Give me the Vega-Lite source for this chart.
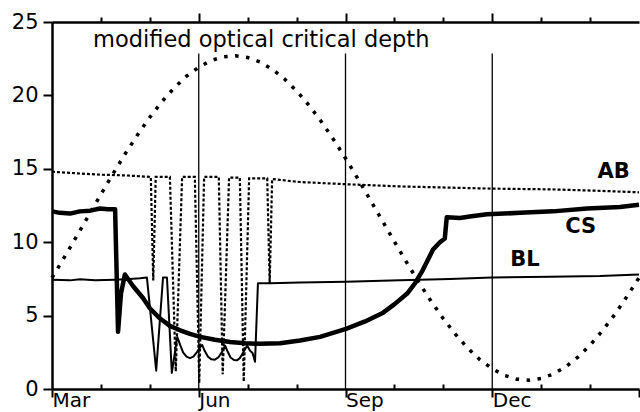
{
  "$schema": "https://vega.github.io/schema/vega-lite/v6.json",
  "width": 587,
  "height": 367,
  "autosize": {"type": "none"},
  "padding": {"left": 52, "top": 22, "right": 1, "bottom": 23},
  "background": "white",
  "config": {
    "view": {"stroke": null},
    "axis": {
      "labelFont": "DejaVu Sans",
      "labelFontSize": 21,
      "labelColor": "black",
      "domainColor": "black",
      "domainWidth": 2.5,
      "tickColor": "black",
      "tickWidth": 2,
      "grid": false
    },
    "text": {"font": "DejaVu Sans", "fontSize": 21, "color": "black"}
  },
  "datasets": {
    "curves": [
      {"series": "OCD", "month": 0, "value": 7.58},
      {"series": "OCD", "month": 0.25, "value": 8.96},
      {"series": "OCD", "month": 0.5, "value": 10.38},
      {"series": "OCD", "month": 0.75, "value": 11.82},
      {"series": "OCD", "month": 1, "value": 13.26},
      {"series": "OCD", "month": 1.25, "value": 14.68},
      {"series": "OCD", "month": 1.5, "value": 16.04},
      {"series": "OCD", "month": 1.75, "value": 17.32},
      {"series": "OCD", "month": 2, "value": 18.51},
      {"series": "OCD", "month": 2.25, "value": 19.58},
      {"series": "OCD", "month": 2.5, "value": 20.52},
      {"series": "OCD", "month": 2.75, "value": 21.31},
      {"series": "OCD", "month": 3, "value": 21.92},
      {"series": "OCD", "month": 3.25, "value": 22.37},
      {"series": "OCD", "month": 3.5, "value": 22.63},
      {"series": "OCD", "month": 3.75, "value": 22.7},
      {"series": "OCD", "month": 4, "value": 22.58},
      {"series": "OCD", "month": 4.25, "value": 22.28},
      {"series": "OCD", "month": 4.5, "value": 21.79},
      {"series": "OCD", "month": 4.75, "value": 21.13},
      {"series": "OCD", "month": 5, "value": 20.31},
      {"series": "OCD", "month": 5.25, "value": 19.34},
      {"series": "OCD", "month": 5.5, "value": 18.24},
      {"series": "OCD", "month": 5.75, "value": 17.02},
      {"series": "OCD", "month": 6, "value": 15.72},
      {"series": "OCD", "month": 6.25, "value": 14.34},
      {"series": "OCD", "month": 6.5, "value": 12.92},
      {"series": "OCD", "month": 6.75, "value": 11.48},
      {"series": "OCD", "month": 7, "value": 10.04},
      {"series": "OCD", "month": 7.25, "value": 8.62},
      {"series": "OCD", "month": 7.5, "value": 7.26},
      {"series": "OCD", "month": 7.75, "value": 5.98},
      {"series": "OCD", "month": 8, "value": 4.79},
      {"series": "OCD", "month": 8.25, "value": 3.72},
      {"series": "OCD", "month": 8.5, "value": 2.78},
      {"series": "OCD", "month": 8.75, "value": 1.99},
      {"series": "OCD", "month": 9, "value": 1.38},
      {"series": "OCD", "month": 9.25, "value": 0.93},
      {"series": "OCD", "month": 9.5, "value": 0.67},
      {"series": "OCD", "month": 9.75, "value": 0.6},
      {"series": "OCD", "month": 10, "value": 0.72},
      {"series": "OCD", "month": 10.25, "value": 1.02},
      {"series": "OCD", "month": 10.5, "value": 1.51},
      {"series": "OCD", "month": 10.75, "value": 2.17},
      {"series": "OCD", "month": 11, "value": 2.99},
      {"series": "OCD", "month": 11.25, "value": 3.96},
      {"series": "OCD", "month": 11.5, "value": 5.06},
      {"series": "OCD", "month": 11.75, "value": 6.28},
      {"series": "OCD", "month": 12, "value": 7.58},

      {"series": "AB", "month": 0, "value": 14.8},
      {"series": "AB", "month": 0.47, "value": 14.7},
      {"series": "AB", "month": 0.98, "value": 14.6},
      {"series": "AB", "month": 1.49, "value": 14.55},
      {"series": "AB", "month": 2.02, "value": 14.45},
      {"series": "AB", "month": 2.07, "value": 7.4},
      {"series": "AB", "month": 2.12, "value": 14.45},
      {"series": "AB", "month": 2.41, "value": 14.45},
      {"series": "AB", "month": 2.53, "value": 1.2},
      {"series": "AB", "month": 2.66, "value": 14.45},
      {"series": "AB", "month": 2.92, "value": 14.45},
      {"series": "AB", "month": 3.01, "value": 0.4},
      {"series": "AB", "month": 3.11, "value": 14.45},
      {"series": "AB", "month": 3.41, "value": 14.45},
      {"series": "AB", "month": 3.49, "value": 1.0},
      {"series": "AB", "month": 3.62, "value": 14.4},
      {"series": "AB", "month": 3.84, "value": 14.4},
      {"series": "AB", "month": 3.92, "value": 0.5},
      {"series": "AB", "month": 4.03, "value": 14.35},
      {"series": "AB", "month": 4.4, "value": 14.35},
      {"series": "AB", "month": 4.45, "value": 7.2},
      {"series": "AB", "month": 4.5, "value": 14.3},
      {"series": "AB", "month": 5.07, "value": 14.1},
      {"series": "AB", "month": 6.01, "value": 13.95},
      {"series": "AB", "month": 7.11, "value": 13.8},
      {"series": "AB", "month": 8.34, "value": 13.7},
      {"series": "AB", "month": 8.99, "value": 13.65},
      {"series": "AB", "month": 10.18, "value": 13.6},
      {"series": "AB", "month": 11.2, "value": 13.5},
      {"series": "AB", "month": 12, "value": 13.4},

      {"series": "CS", "month": 0, "value": 12.1},
      {"series": "CS", "month": 0.16, "value": 12.0},
      {"series": "CS", "month": 0.37, "value": 11.95},
      {"series": "CS", "month": 0.57, "value": 12.1},
      {"series": "CS", "month": 0.78, "value": 12.15},
      {"series": "CS", "month": 0.98, "value": 12.3},
      {"series": "CS", "month": 1.14, "value": 12.25},
      {"series": "CS", "month": 1.29, "value": 12.25},
      {"series": "CS", "month": 1.35, "value": 3.9},
      {"series": "CS", "month": 1.41, "value": 6.5},
      {"series": "CS", "month": 1.49, "value": 7.8},
      {"series": "CS", "month": 1.66, "value": 7.0},
      {"series": "CS", "month": 1.86, "value": 6.2},
      {"series": "CS", "month": 2.0, "value": 5.5},
      {"series": "CS", "month": 2.21, "value": 4.8},
      {"series": "CS", "month": 2.41, "value": 4.3},
      {"series": "CS", "month": 2.62, "value": 4.0},
      {"series": "CS", "month": 2.82, "value": 3.75},
      {"series": "CS", "month": 3.03, "value": 3.55},
      {"series": "CS", "month": 3.33, "value": 3.35},
      {"series": "CS", "month": 3.64, "value": 3.2},
      {"series": "CS", "month": 3.95, "value": 3.12},
      {"series": "CS", "month": 4.25, "value": 3.08},
      {"series": "CS", "month": 4.66, "value": 3.12},
      {"series": "CS", "month": 5.07, "value": 3.3},
      {"series": "CS", "month": 5.48, "value": 3.55},
      {"series": "CS", "month": 6.01, "value": 4.1},
      {"series": "CS", "month": 6.4, "value": 4.6},
      {"series": "CS", "month": 6.77, "value": 5.2},
      {"series": "CS", "month": 7.01, "value": 5.8},
      {"series": "CS", "month": 7.26, "value": 6.5},
      {"series": "CS", "month": 7.42, "value": 7.2},
      {"series": "CS", "month": 7.58, "value": 8.1},
      {"series": "CS", "month": 7.79, "value": 9.5},
      {"series": "CS", "month": 7.93, "value": 10.0},
      {"series": "CS", "month": 8.03, "value": 10.25},
      {"series": "CS", "month": 8.07, "value": 11.7},
      {"series": "CS", "month": 8.34, "value": 11.65},
      {"series": "CS", "month": 8.54, "value": 11.75},
      {"series": "CS", "month": 8.89, "value": 11.9},
      {"series": "CS", "month": 9.57, "value": 12.0},
      {"series": "CS", "month": 10.24, "value": 12.1},
      {"series": "CS", "month": 10.94, "value": 12.3},
      {"series": "CS", "month": 11.61, "value": 12.4},
      {"series": "CS", "month": 12, "value": 12.55},

      {"series": "BL", "month": 0, "value": 7.45},
      {"series": "BL", "month": 0.37, "value": 7.4},
      {"series": "BL", "month": 0.57, "value": 7.48},
      {"series": "BL", "month": 0.88, "value": 7.4},
      {"series": "BL", "month": 1.29, "value": 7.45},
      {"series": "BL", "month": 1.59, "value": 7.5},
      {"series": "BL", "month": 1.8, "value": 7.55},
      {"series": "BL", "month": 1.94, "value": 7.6},
      {"series": "BL", "month": 2.13, "value": 1.25},
      {"series": "BL", "month": 2.27, "value": 7.6},
      {"series": "BL", "month": 2.35, "value": 7.6},
      {"series": "BL", "month": 2.45, "value": 1.1},
      {"series": "BL", "month": 2.56, "value": 3.55},
      {"series": "BL", "month": 2.62, "value": 3.0},
      {"series": "BL", "month": 2.68, "value": 2.5},
      {"series": "BL", "month": 2.75, "value": 2.2},
      {"series": "BL", "month": 2.82, "value": 2.1},
      {"series": "BL", "month": 2.89, "value": 2.2},
      {"series": "BL", "month": 2.96, "value": 2.5},
      {"series": "BL", "month": 3.03, "value": 2.85},
      {"series": "BL", "month": 3.07, "value": 3.0},
      {"series": "BL", "month": 3.12, "value": 2.6},
      {"series": "BL", "month": 3.19, "value": 2.2},
      {"series": "BL", "month": 3.26, "value": 2.02},
      {"series": "BL", "month": 3.33, "value": 2.0},
      {"series": "BL", "month": 3.4, "value": 2.15},
      {"series": "BL", "month": 3.47, "value": 2.5},
      {"series": "BL", "month": 3.54, "value": 2.95},
      {"series": "BL", "month": 3.59, "value": 2.55},
      {"series": "BL", "month": 3.65, "value": 2.15},
      {"series": "BL", "month": 3.72, "value": 1.97},
      {"series": "BL", "month": 3.78, "value": 1.95},
      {"series": "BL", "month": 3.84, "value": 2.1},
      {"series": "BL", "month": 3.91, "value": 2.5},
      {"series": "BL", "month": 3.99, "value": 2.95},
      {"series": "BL", "month": 4.05, "value": 2.6},
      {"series": "BL", "month": 4.1, "value": 2.45},
      {"series": "BL", "month": 4.15, "value": 1.85},
      {"series": "BL", "month": 4.21, "value": 7.2},
      {"series": "BL", "month": 4.46, "value": 7.2},
      {"series": "BL", "month": 5.07, "value": 7.25},
      {"series": "BL", "month": 6.01, "value": 7.3},
      {"series": "BL", "month": 7.11, "value": 7.4},
      {"series": "BL", "month": 8.14, "value": 7.5},
      {"series": "BL", "month": 8.99, "value": 7.6},
      {"series": "BL", "month": 10.18, "value": 7.65},
      {"series": "BL", "month": 11.2, "value": 7.7},
      {"series": "BL", "month": 12, "value": 7.8}
    ],
    "seasons": [
      {"month": 3},
      {"month": 6},
      {"month": 9}
    ]
  },
  "layer": [
    {
      "data": {"name": "curves"},
      "transform": [{"filter": "datum.series === 'OCD'"}],
      "mark": {"type": "line", "color": "black", "strokeWidth": 3.5, "strokeDash": [3.5, 7.5], "strokeCap": "butt"},
      "encoding": {
        "x": {
          "field": "month", "type": "quantitative",
          "scale": {"domain": [0, 12], "nice": false, "zero": false},
          "axis": {
            "orient": "bottom",
            "title": null,
            "values": [0, 1, 2, 3, 4, 5, 6, 7, 8, 9, 10, 11, 12],
            "labelExpr": "datum.value === 0 ? 'Mar' : datum.value === 3 ? 'Jun' : datum.value === 6 ? 'Sep' : datum.value === 9 ? 'Dec' : ''",
            "labelAlign": "left",
            "labelDx": 5,
            "labelPadding": -7,
            "labelFontSize": 20,
            "labelFlush": false,
            "labelOverlap": false,
            "labelBound": false,
            "tickSize": {"condition": {"test": "datum.value % 3 === 0", "value": 8}, "value": -5}
          }
        },
        "y": {"field": "value", "type": "quantitative", "title": null, "scale": {"domain": [0, 25], "nice": false},
              "axis": {"values": [0, 5, 10, 15, 20, 25], "tickSize": 9, "labelPadding": 5}}
      }
    },
    {
      "data": {"name": "seasons"},
      "mark": {"type": "rule", "color": "black", "strokeWidth": 1.3},
      "encoding": {
        "x": {
          "field": "month", "type": "quantitative",
          "scale": {"domain": [0, 12], "nice": false, "zero": false},
          "axis": {
            "orient": "top",
            "title": null,
            "values": [1, 2, 3, 4, 5, 6, 7, 8, 9, 10, 11],
            "labels": false,
            "tickSize": {"condition": {"test": "datum.value % 3 === 0", "value": 9}, "value": 5}
          }
        },
        "y": {"datum": 0, "type": "quantitative", "title": null, "scale": {"domain": [0, 25], "nice": false},
              "axis": {"values": [0, 5, 10, 15, 20, 25], "tickSize": 9, "labelPadding": 5}},
        "y2": {"datum": 22.85}
      }
    },
    {
      "data": {"name": "curves"},
      "transform": [{"filter": "datum.series === 'AB'"}],
      "mark": {"type": "line", "color": "black", "strokeWidth": 2.2, "strokeDash": [3, 2], "strokeCap": "butt"},
      "encoding": {
        "x": {"field": "month", "type": "quantitative", "axis": null, "scale": {"domain": [0, 12], "nice": false, "zero": false}},
        "y": {"field": "value", "type": "quantitative", "title": null, "scale": {"domain": [0, 25], "nice": false},
              "axis": {"values": [0, 5, 10, 15, 20, 25], "tickSize": 9, "labelPadding": 5}}
      }
    },
    {
      "data": {"name": "curves"},
      "transform": [{"filter": "datum.series === 'BL'"}],
      "mark": {"type": "line", "color": "black", "strokeWidth": 2, "strokeJoin": "round"},
      "encoding": {
        "x": {"field": "month", "type": "quantitative", "axis": null, "scale": {"domain": [0, 12], "nice": false, "zero": false}},
        "y": {"field": "value", "type": "quantitative", "title": null, "scale": {"domain": [0, 25], "nice": false},
              "axis": {"values": [0, 5, 10, 15, 20, 25], "tickSize": 9, "labelPadding": 5}}
      }
    },
    {
      "data": {"name": "curves"},
      "transform": [{"filter": "datum.series === 'CS'"}],
      "mark": {"type": "line", "color": "black", "strokeWidth": 4.5, "strokeJoin": "round"},
      "encoding": {
        "x": {"field": "month", "type": "quantitative", "axis": null, "scale": {"domain": [0, 12], "nice": false, "zero": false}},
        "y": {"field": "value", "type": "quantitative", "title": null, "scale": {"domain": [0, 25], "nice": false},
              "axis": {"values": [0, 5, 10, 15, 20, 25], "tickSize": 9, "labelPadding": 5}}
      }
    },
    {
      "data": {"values": [{}]},
      "mark": {"type": "text", "text": "modified optical critical depth", "align": "left", "baseline": "alphabetic", "fontSize": 22.5},
      "encoding": {
        "x": {"datum": 0.84, "type": "quantitative", "axis": null, "scale": {"domain": [0, 12], "nice": false, "zero": false}},
        "y": {"datum": 23.29, "type": "quantitative", "title": null, "scale": {"domain": [0, 25], "nice": false},
              "axis": {"values": [0, 5, 10, 15, 20, 25], "tickSize": 9, "labelPadding": 5}}
      }
    },
    {
      "data": {"values": [{}]},
      "mark": {"type": "text", "text": "AB", "align": "center", "baseline": "middle", "fontWeight": "bold"},
      "encoding": {
        "x": {"datum": 11.48, "type": "quantitative", "axis": null, "scale": {"domain": [0, 12], "nice": false, "zero": false}},
        "y": {"datum": 14.78, "type": "quantitative", "title": null, "scale": {"domain": [0, 25], "nice": false},
              "axis": {"values": [0, 5, 10, 15, 20, 25], "tickSize": 9, "labelPadding": 5}}
      }
    },
    {
      "data": {"values": [{}]},
      "mark": {"type": "text", "text": "CS", "align": "center", "baseline": "middle", "fontWeight": "bold"},
      "encoding": {
        "x": {"datum": 10.81, "type": "quantitative", "axis": null, "scale": {"domain": [0, 12], "nice": false, "zero": false}},
        "y": {"datum": 11.03, "type": "quantitative", "title": null, "scale": {"domain": [0, 25], "nice": false},
              "axis": {"values": [0, 5, 10, 15, 20, 25], "tickSize": 9, "labelPadding": 5}}
      }
    },
    {
      "data": {"values": [{}]},
      "mark": {"type": "text", "text": "BL", "align": "center", "baseline": "middle", "fontWeight": "bold"},
      "encoding": {
        "x": {"datum": 9.67, "type": "quantitative", "axis": null, "scale": {"domain": [0, 12], "nice": false, "zero": false}},
        "y": {"datum": 8.78, "type": "quantitative", "title": null, "scale": {"domain": [0, 25], "nice": false},
              "axis": {"values": [0, 5, 10, 15, 20, 25], "tickSize": 9, "labelPadding": 5}}
      }
    }
  ],
  "resolve": {"axis": {"x": "independent"}}
}
